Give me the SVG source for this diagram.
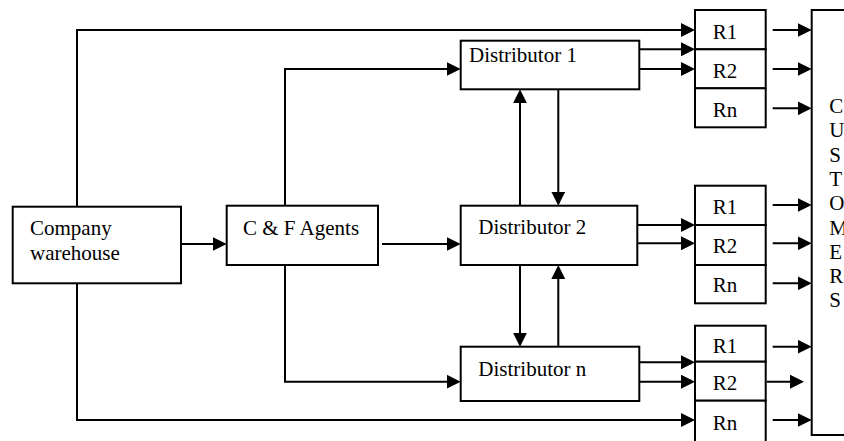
<svg xmlns="http://www.w3.org/2000/svg" width="844" height="441" viewBox="0 0 844 441">
<style>
.box{fill:#fff;stroke:#000;stroke-width:2}
.lbl{font-family:"Liberation Serif","Times New Roman",serif;font-size:21px;fill:#000}
.ln{fill:none;stroke:#000;stroke-width:2}
.ar{fill:none;stroke:#000;stroke-width:2;marker-end:url(#ah)}
</style>
<defs>
<marker id="ah" markerUnits="userSpaceOnUse" markerWidth="14" markerHeight="14" refX="11" refY="7" orient="auto">
<path d="M0,0 L14,7 L0,14 z" fill="#000"/>
</marker>
</defs>
<g id="connectors">
<polyline class="ar" points="77,206.7 77,30 692,30"/>
<polyline class="ar" points="77,283.3 77,420 692,420"/>
<line class="ar" x1="181" y1="244" x2="223.7" y2="244"/>
<polyline class="ar" points="285,205.7 285,69 457.7,69"/>
<line class="ar" x1="382" y1="244" x2="457.7" y2="244"/>
<polyline class="ar" points="285,265 285,381.7 457.7,381.7"/>
<line class="ar" x1="520" y1="205.7" x2="520" y2="92.3"/>
<line class="ar" x1="558.3" y1="89.3" x2="558.3" y2="202.7"/>
<line class="ar" x1="520" y1="265" x2="520" y2="343.7"/>
<line class="ar" x1="558.3" y1="346.7" x2="558.3" y2="268"/>
<line class="ar" x1="636.7" y1="49.3" x2="692" y2="49.3"/>
<line class="ar" x1="636.7" y1="69" x2="692" y2="69"/>
<line class="ar" x1="637" y1="225" x2="692" y2="225"/>
<line class="ar" x1="637" y1="243.3" x2="692" y2="243.3"/>
<line class="ar" x1="636.7" y1="362.3" x2="692" y2="362.3"/>
<line class="ar" x1="636.7" y1="381.7" x2="692" y2="381.7"/>
<line class="ar" x1="772.7" y1="30" x2="808.7" y2="30"/>
<line class="ar" x1="772.7" y1="69" x2="808.7" y2="69"/>
<line class="ar" x1="772.7" y1="108.3" x2="808.7" y2="108.3"/>
<line class="ar" x1="772.7" y1="205" x2="808.7" y2="205"/>
<line class="ar" x1="772.7" y1="243.3" x2="808.7" y2="243.3"/>
<line class="ar" x1="772.7" y1="283.3" x2="808.7" y2="283.3"/>
<line class="ar" x1="772.7" y1="346.7" x2="808.7" y2="346.7"/>
<line class="ar" x1="766.7" y1="381.7" x2="801" y2="381.7"/>
<line class="ar" x1="772.7" y1="420" x2="808.7" y2="420"/>
</g>
<g id="warehouse">
<rect class="box" x="12.7" y="206.7" width="168.3" height="76.6"/>
<text class="lbl" x="30" y="235">Company</text>
<text class="lbl" x="30" y="260">warehouse</text>
</g>
<g id="cf-agents">
<rect class="box" x="226.7" y="205.7" width="151.3" height="59.3"/>
<text class="lbl" x="243" y="235">C &amp; F Agents</text>
</g>
<g id="distributor-1">
<rect class="box" x="460.7" y="40.7" width="178.6" height="48.6"/>
<text class="lbl" x="469" y="62">Distributor 1</text>
</g>
<g id="distributor-2">
<rect class="box" x="460.7" y="205.7" width="176.6" height="59.3"/>
<text class="lbl" x="478.3" y="234.3">Distributor 2</text>
</g>
<g id="distributor-n">
<rect class="box" x="460.7" y="346.7" width="178.6" height="54.3"/>
<text class="lbl" x="478.3" y="375.7">Distributor n</text>
</g>
<g id="retailers-1">
<rect class="box" x="695" y="10" width="70.7" height="39.3"/>
<rect class="box" x="695" y="49.3" width="70.7" height="39"/>
<rect class="box" x="695" y="88.3" width="70.7" height="39"/>
<text class="lbl" x="712.7" y="38.5">R1</text>
<text class="lbl" x="712.7" y="77.5">R2</text>
<text class="lbl" x="712.7" y="117">Rn</text>
</g>
<g id="retailers-2">
<rect class="box" x="695" y="185.7" width="70.7" height="39.3"/>
<rect class="box" x="695" y="225" width="70.7" height="40"/>
<rect class="box" x="695" y="265" width="70.7" height="38.3"/>
<text class="lbl" x="712.7" y="214">R1</text>
<text class="lbl" x="712.7" y="253">R2</text>
<text class="lbl" x="712.7" y="292">Rn</text>
</g>
<g id="retailers-n">
<rect class="box" x="695" y="325.7" width="70.7" height="36"/>
<rect class="box" x="695" y="361.7" width="70.7" height="39"/>
<rect class="box" x="695" y="400.7" width="70.7" height="45"/>
<text class="lbl" x="712.7" y="353.3">R1</text>
<text class="lbl" x="712.7" y="390">R2</text>
<text class="lbl" x="712.7" y="430">Rn</text>
</g>
<g id="customers">
<rect class="box" x="811.7" y="10" width="40" height="425"/>
<text class="lbl" x="829.3" y="113">C</text>
<text class="lbl" x="829.3" y="137.3">U</text>
<text class="lbl" x="829.3" y="161.6">S</text>
<text class="lbl" x="829.3" y="185.9">T</text>
<text class="lbl" x="829.3" y="210.2">O</text>
<text class="lbl" x="829.3" y="234.5">M</text>
<text class="lbl" x="829.3" y="258.8">E</text>
<text class="lbl" x="829.3" y="283.1">R</text>
<text class="lbl" x="829.3" y="307.4">S</text>
</g>
</svg>
